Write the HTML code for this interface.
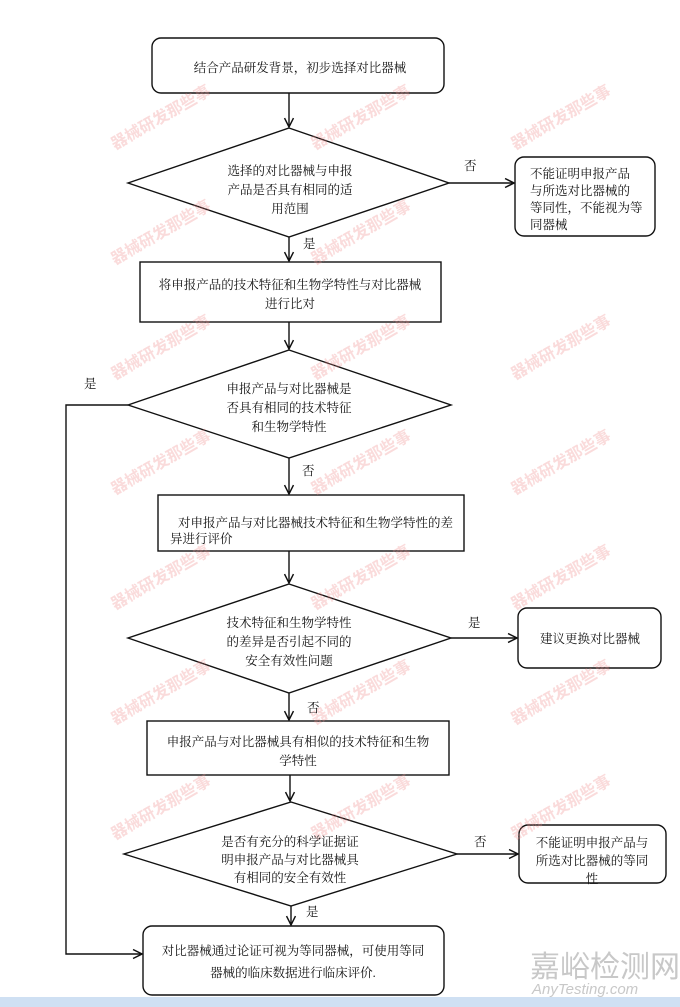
<!DOCTYPE html>
<html><head><meta charset="utf-8"><style>
html,body{margin:0;padding:0;background:#fff;}
svg{display:block;}
text{font-family:"Liberation Serif","Noto Serif CJK SC","Noto Sans CJK SC",serif;font-size:12.5px;fill:#111;}
.wm{font-family:"Noto Sans CJK SC",sans-serif;font-size:16px;fill:#f08a8a;opacity:0.55;font-weight:bold;}
</style></head><body>
<svg width="680" height="1007" viewBox="0 0 680 1007" xmlns="http://www.w3.org/2000/svg">
<defs><marker id="a" viewBox="0 0 10 10" refX="9" refY="5" markerWidth="8" markerHeight="8" orient="auto"><path d="M1,1 L9,5 L1,9" fill="none" stroke="#111" stroke-width="1.3"/></marker></defs>
<g stroke="#111" stroke-width="1.4" fill="none">
<rect x="152" y="38" width="292" height="55" rx="9"/>
<polygon points="289,128 449,183 289,237 128,183"/>
<rect x="515" y="157" width="140" height="79" rx="9"/>
<rect x="140" y="262" width="301" height="60"/>
<polygon points="289,350 451,405 289,458 128,405"/>
<rect x="158" y="495" width="306" height="56"/>
<polygon points="289,584 451,638 289,693 128,638"/>
<rect x="518" y="608" width="143" height="60" rx="9"/>
<rect x="147" y="721" width="302" height="54"/>
<polygon points="291,802 457,854 291,906 124,854"/>
<rect x="519" y="825" width="147" height="58" rx="9"/>
<rect x="143" y="926" width="301" height="69" rx="9"/>
<line x1="289" y1="93" x2="289" y2="127" marker-end="url(#a)"/>
<line x1="449" y1="183" x2="514" y2="183" marker-end="url(#a)"/>
<line x1="289" y1="237" x2="289" y2="261" marker-end="url(#a)"/>
<line x1="289" y1="322" x2="289" y2="349" marker-end="url(#a)"/>
<line x1="289" y1="458" x2="289" y2="494" marker-end="url(#a)"/>
<line x1="289" y1="551" x2="289" y2="583" marker-end="url(#a)"/>
<line x1="451" y1="638" x2="517" y2="638" marker-end="url(#a)"/>
<line x1="289" y1="693" x2="289" y2="720" marker-end="url(#a)"/>
<line x1="290" y1="775" x2="290" y2="801" marker-end="url(#a)"/>
<line x1="457" y1="854" x2="518" y2="854" marker-end="url(#a)"/>
<line x1="291" y1="906" x2="291" y2="925" marker-end="url(#a)"/>
<polyline points="128,405 66,405 66,954 142,954" marker-end="url(#a)"/>
</g>
<g class="wm">
<text class="wm" x="115" y="150" transform="rotate(-30 115 150)">器械研发那些事</text>
<text class="wm" x="315" y="150" transform="rotate(-30 315 150)">器械研发那些事</text>
<text class="wm" x="515" y="150" transform="rotate(-30 515 150)">器械研发那些事</text>
<text class="wm" x="115" y="265" transform="rotate(-30 115 265)">器械研发那些事</text>
<text class="wm" x="315" y="265" transform="rotate(-30 315 265)">器械研发那些事</text>
<text class="wm" x="115" y="380" transform="rotate(-30 115 380)">器械研发那些事</text>
<text class="wm" x="315" y="380" transform="rotate(-30 315 380)">器械研发那些事</text>
<text class="wm" x="515" y="380" transform="rotate(-30 515 380)">器械研发那些事</text>
<text class="wm" x="115" y="495" transform="rotate(-30 115 495)">器械研发那些事</text>
<text class="wm" x="315" y="495" transform="rotate(-30 315 495)">器械研发那些事</text>
<text class="wm" x="515" y="495" transform="rotate(-30 515 495)">器械研发那些事</text>
<text class="wm" x="115" y="610" transform="rotate(-30 115 610)">器械研发那些事</text>
<text class="wm" x="315" y="610" transform="rotate(-30 315 610)">器械研发那些事</text>
<text class="wm" x="515" y="610" transform="rotate(-30 515 610)">器械研发那些事</text>
<text class="wm" x="115" y="725" transform="rotate(-30 115 725)">器械研发那些事</text>
<text class="wm" x="315" y="725" transform="rotate(-30 315 725)">器械研发那些事</text>
<text class="wm" x="515" y="725" transform="rotate(-30 515 725)">器械研发那些事</text>
<text class="wm" x="115" y="840" transform="rotate(-30 115 840)">器械研发那些事</text>
<text class="wm" x="315" y="840" transform="rotate(-30 315 840)">器械研发那些事</text>
<text class="wm" x="515" y="840" transform="rotate(-30 515 840)">器械研发那些事</text>
</g>
<g text-anchor="middle">
<text x="300" y="72">结合产品研发背景，初步选择对比器械</text>
<text x="290" y="175">选择的对比器械与申报</text>
<text x="290" y="194">产品是否具有相同的适</text>
<text x="290" y="213">用范围</text>
<text x="290" y="289">将申报产品的技术特征和生物学特性与对比器械</text>
<text x="290" y="308">进行比对</text>
<text x="289" y="393">申报产品与对比器械是</text>
<text x="289" y="412">否具有相同的技术特征</text>
<text x="289" y="431">和生物学特性</text>
<text x="289" y="627">技术特征和生物学特性</text>
<text x="289" y="646">的差异是否引起不同的</text>
<text x="289" y="665">安全有效性问题</text>
<text x="298" y="746">申报产品与对比器械具有相似的技术特征和生物</text>
<text x="298" y="765">学特性</text>
<text x="290" y="846">是否有充分的科学证据证</text>
<text x="290" y="864">明申报产品与对比器械具</text>
<text x="290" y="882">有相同的安全有效性</text>
<text x="293" y="955">对比器械通过论证可视为等同器械，可使用等同</text>
<text x="293" y="977">器械的临床数据进行临床评价.</text>
<text x="590" y="643">建议更换对比器械</text>
<text x="592" y="847">不能证明申报产品与</text>
<text x="592" y="865">所选对比器械的等同</text>
<text x="592" y="883">性</text>
</g>
<text x="530" y="178">不能证明申报产品</text>
<text x="530" y="195">与所选对比器械的</text>
<text x="530" y="212">等同性，不能视为等</text>
<text x="530" y="229">同器械</text>
<text x="178" y="527">对申报产品与对比器械技术特征和生物学特性的差</text>
<text x="170" y="543">异进行评价</text>
<text x="464" y="170">否</text>
<text x="303" y="248">是</text>
<text x="84" y="388">是</text>
<text x="302" y="475">否</text>
<text x="468" y="627">是</text>
<text x="307" y="712">否</text>
<text x="474" y="846">否</text>
<text x="306" y="916">是</text>
<text x="530" y="977" style="font-family:'Noto Sans CJK SC',sans-serif;font-size:30px;fill:#c8c8c8;">嘉峪检测网</text>
<text x="532" y="994" style="font-family:'Liberation Sans',sans-serif;font-size:15px;font-style:italic;fill:#c8c8c8;">AnyTesting.com</text>
<rect x="0" y="997" width="680" height="10" fill="#cfe0f3"/>
</svg>
</body></html>
